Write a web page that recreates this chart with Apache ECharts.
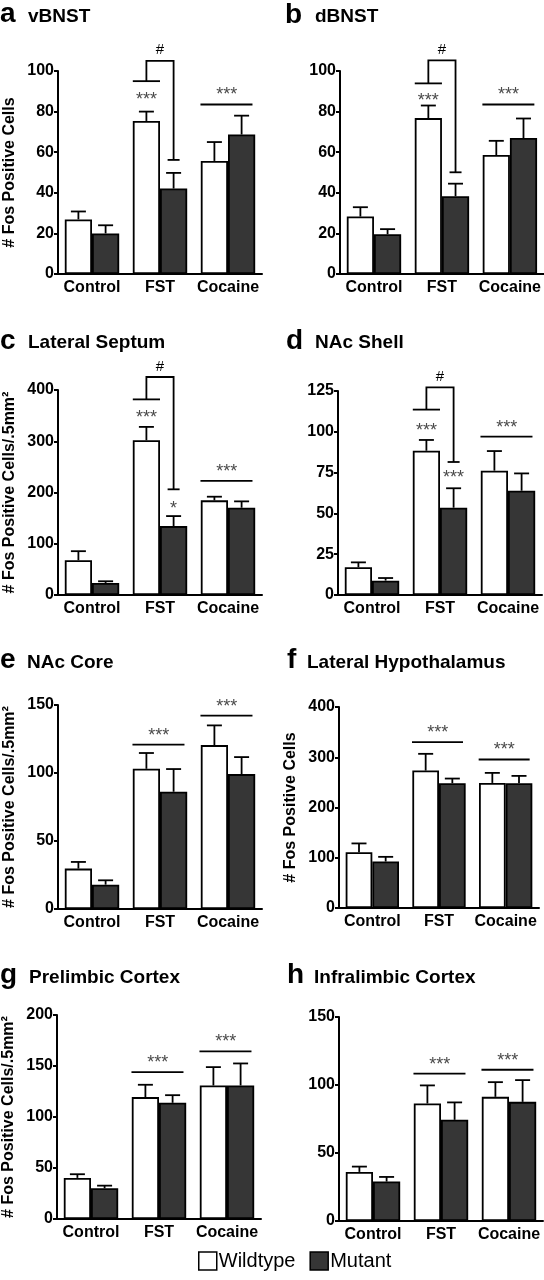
<!DOCTYPE html>
<html><head><meta charset="utf-8">
<script src="https://cdn.jsdelivr.net/npm/echarts@6/dist/echarts.min.js"></script>
<style>html,body{margin:0;padding:0;background:#fff;}#c{width:544px;height:1280px;}</style>
</head><body><div id="c"></div>
<script>
// ---------- data ----------
const categories = ['Control', 'FST', 'Cocaine'];
const seriesNames = ['Wildtype', 'Mutant'];
const panelLetters = ['a', 'b', 'c', 'd', 'e', 'f', 'g', 'h'];
const panelTitles = ['vBNST', 'dBNST', 'Lateral Septum', 'NAc Shell', 'NAc Core', 'Lateral Hypothalamus', 'Prelimbic Cortex', 'Infralimbic Cortex'];
const yNames = ['# Fos Positive Cells', '', '# Fos Positive Cells/.5mm\u00b2', '', '# Fos Positive Cells/.5mm\u00b2', '# Fos Positive Cells', '# Fos Positive Cells/.5mm\u00b2', ''];
const axisMax = [100, 100, 400, 125, 150, 400, 200, 150];
const axisStep = [20, 20, 100, 25, 50, 100, 50, 50];

const vbnstWT = [26.9, 75.4, 55.7], vbnstWTsem = [3.9, 4.6, 9.3];
const vbnstMut = [20.0, 42.1, 68.7], vbnstMutSem = [4.0, 7.7, 9.3];
const dbnstWT = [28.3, 76.8, 58.6], dbnstWTsem = [4.6, 6.2, 7.0];
const dbnstMut = [19.6, 38.3, 67.0], dbnstMutSem = [2.5, 6.2, 9.6];
const lsWT = [67.9, 302, 184.7], lsWTsem = [17.6, 26, 7.1];
const lsMut = [23.5, 134.4, 170.3], lsMutSem = [3.3, 19.6, 12.4];
const shellWT = [17.0, 88.4, 76.2], shellWTsem = [3.0, 6.6, 12.0];
const shellMut = [8.8, 53.5, 63.9], shellMutSem = [1.6, 11.9, 10.6];
const coreWT = [29.7, 103.1, 120.5], coreWTsem = [4.9, 11.6, 14.5];
const coreMut = [17.9, 86.2, 99.2], coreMutSem = [3.2, 16.7, 12.5];
const lhWT = [111.1, 273.5, 248.9], lhWTsem = [17.4, 33.3, 20.0];
const lhMut = [92.5, 248.3, 248.3], lhMutSem = [9.3, 9.3, 14.6];
const plWT = [40.3, 119.5, 130.9], plWTsem = [3.6, 12.1, 18.0];
const plMut = [30.1, 113.9, 130.9], plMutSem = [2.6, 7.5, 21.6];
const ilWT = [36.1, 86.4, 91.3], ilWTsem = [3.9, 13.3, 10.8];
const ilMut = [29.0, 74.4, 87.6], ilMutSem = [3.4, 12.8, 16.0];

// significance marks (value levels)
const vbnstSig = [
  {kind: 'bracket', cat: 1, low: 95, high: 105, end: 56.2, label: '#'},
  {kind: 'bar', cat: 1, side: -1, level: 87.2, label: '***'},
  {kind: 'group', cat: 2, level: 83.5, label: '***'}];
const dbnstSig = [
  {kind: 'bracket', cat: 1, low: 93.9, high: 105.2, end: 50.1, label: '#'},
  {kind: 'bar', cat: 1, side: -1, level: 86.9, label: '***'},
  {kind: 'group', cat: 2, level: 83.5, label: '***'}];
const lsSig = [
  {kind: 'bracket', cat: 1, low: 381.7, high: 425.4, end: 206.2, label: '#'},
  {kind: 'bar', cat: 1, side: -1, level: 351.7, label: '***'},
  {kind: 'bar', cat: 1, side: 1, level: 174.2, label: '*'},
  {kind: 'group', cat: 2, level: 222.5, label: '***'}];
const shellSig = [
  {kind: 'bracket', cat: 1, low: 113.6, high: 127.2, end: 81.5, label: '#'},
  {kind: 'bar', cat: 1, side: -1, level: 102.5, label: '***'},
  {kind: 'bar', cat: 1, side: 1, level: 73.7, label: '***'},
  {kind: 'group', cat: 2, level: 97, label: '***'}];
const coreSig = [{kind: 'group', cat: 1, level: 120.8, label: '***'}, {kind: 'group', cat: 2, level: 142.2, label: '***'}];
const lhSig = [{kind: 'group', cat: 1, level: 330, label: '***'}, {kind: 'group', cat: 2, level: 295.5, label: '***'}];
const plSig = [{kind: 'group', cat: 1, level: 144, label: '***'}, {kind: 'group', cat: 2, level: 164.3, label: '***'}];
const ilSig = [{kind: 'group', cat: 1, level: 108.3, label: '***'}, {kind: 'group', cat: 2, level: 111.2, label: '***'}];

const panelData = [
  [vbnstWT, vbnstWTsem, vbnstMut, vbnstMutSem, vbnstSig],
  [dbnstWT, dbnstWTsem, dbnstMut, dbnstMutSem, dbnstSig],
  [lsWT, lsWTsem, lsMut, lsMutSem, lsSig],
  [shellWT, shellWTsem, shellMut, shellMutSem, shellSig],
  [coreWT, coreWTsem, coreMut, coreMutSem, coreSig],
  [lhWT, lhWTsem, lhMut, lhMutSem, lhSig],
  [plWT, plWTsem, plMut, plMutSem, plSig],
  [ilWT, ilWTsem, ilMut, ilMutSem, ilSig]];

// ---------- layout ----------
const FONT = 'Liberation Sans, Arial, Helvetica, sans-serif';
const layout = [
  {left: 58, top: 71, width: 204, height: 203, lx: 0, ly: 0, tx: 28, ty: 7},
  {left: 340, top: 71, width: 204, height: 203, lx: 285, ly: 1, tx: 315, ty: 7},
  {left: 58, top: 390, width: 204, height: 205, lx: 0, ly: 327, tx: 28, ty: 333},
  {left: 338, top: 391, width: 204, height: 204, lx: 286, ly: 327, tx: 315, ty: 333},
  {left: 58, top: 705, width: 204, height: 204, lx: 0, ly: 646.5, tx: 27, ty: 653},
  {left: 339, top: 707, width: 200, height: 201, lx: 287, ly: 646, tx: 307, ty: 653},
  {left: 57, top: 1015, width: 204, height: 204, lx: 0, ly: 961, tx: 29, ty: 968},
  {left: 339, top: 1017, width: 204, height: 204, lx: 287, ly: 961, tx: 314, ty: 968}];

const LW = 1.8;
function seg(x1, y1, x2, y2) {
  return {type: 'line', shape: {x1, y1, x2, y2}, style: {stroke: '#000', lineWidth: LW}};
}
function txt(x, y, t, size, color) {
  return {type: 'text', x, y, style: {text: t, fill: color, fontSize: size, fontFamily: FONT, align: 'center', verticalAlign: 'middle'}};
}
function errRender(params, api) {
  const cat = api.value(0), v = api.value(1), e = api.value(2), side = api.value(3);
  const band = api.size([1, 0])[0];
  const p0 = api.coord([cat, v]);
  const p1 = api.coord([cat, v + e]);
  const x = p0[0] + side * 0.2 * band;
  return {type: 'group', children: [seg(x, p0[1], x, p1[1]), seg(x - 7.5, p1[1], x + 7.5, p1[1])]};
}
function makeSigRender(sig) {
  return function (params, api) {
    const s = sig[params.dataIndex];
    const band = api.size([1, 0])[0];
    const c = api.coord([s.cat, 0])[0];
    const els = [];
    if (s.kind === 'group') {
      const y = api.coord([s.cat, s.level])[1];
      els.push(seg(c - 0.405 * band, y, c + 0.36 * band, y));
      els.push(txt(c - 0.02 * band, y - 9, s.label, 18, '#4a4a4a'));
    } else if (s.kind === 'bracket') {
      const yl = api.coord([s.cat, s.low])[1];
      const yh = api.coord([s.cat, s.high])[1];
      const ye = api.coord([s.cat, s.end])[1];
      const xw = c - 0.2 * band, xm = c + 0.2 * band;
      els.push(seg(c - 0.4 * band, yl, c, yl));
      els.push({type: 'polyline', shape: {points: [[xw, yl], [xw, yh], [xm, yh], [xm, ye]]}, style: {stroke: '#000', lineWidth: LW, fill: null}});
      els.push(seg(xm - 6, ye, xm + 6, ye));
      els.push(txt((xw + xm) / 2, yh - 10.5, s.label, 15, '#000'));
    } else {
      const y = api.coord([s.cat, s.level])[1];
      els.push(txt(c + s.side * 0.2 * band, y + 3, s.label, 18, '#4a4a4a'));
    }
    return {type: 'group', children: els};
  };
}

const titles = [], grids = [], xAxes = [], yAxes = [], series = [];
layout.forEach((l, i) => {
  const [wt, wtSem, mut, mutSem, sig] = panelData[i];
  titles.push({text: panelLetters[i], left: l.lx, top: l.ly, padding: 0, textStyle: {fontSize: 28, fontWeight: 'bold', color: '#000', fontFamily: FONT}});
  titles.push({text: panelTitles[i], left: l.tx, top: l.ty, padding: 0, textStyle: {fontSize: 19, fontWeight: 'bold', color: '#000', fontFamily: FONT}});
  grids.push({left: l.left, top: l.top, width: l.width, height: l.height});
  xAxes.push({
    type: 'category', gridIndex: i, data: categories,
    axisLine: {lineStyle: {color: '#000', width: 2}},
    axisTick: {alignWithLabel: true, length: 4, lineStyle: {color: '#000', width: 2}},
    axisLabel: {color: '#000', fontWeight: 'bold', fontSize: 16, margin: 6, interval: 0, fontFamily: FONT},
    splitLine: {show: false}
  });
  yAxes.push({
    type: 'value', gridIndex: i, min: 0, max: axisMax[i], interval: axisStep[i],
    name: yNames[i], nameLocation: 'middle', nameGap: 40,
    nameTextStyle: {color: '#000', fontWeight: 'bold', fontSize: 16, fontFamily: FONT},
    axisLine: {show: true, lineStyle: {color: '#000', width: 2}},
    axisTick: {show: true, length: 4, lineStyle: {color: '#000', width: 2}},
    axisLabel: {color: '#000', fontWeight: 'bold', fontSize: 16, margin: 4, fontFamily: FONT},
    splitLine: {show: false}
  });
  series.push({type: 'bar', name: seriesNames[0], xAxisIndex: i, yAxisIndex: i, data: wt, barGap: '0%', barCategoryGap: '20%',
    itemStyle: {color: '#ffffff', borderColor: '#000', borderWidth: LW}, silent: true});
  series.push({type: 'bar', name: seriesNames[1], xAxisIndex: i, yAxisIndex: i, data: mut, barGap: '0%', barCategoryGap: '20%',
    itemStyle: {color: '#363636', borderColor: '#000', borderWidth: LW}, silent: true});
  series.push({type: 'custom', xAxisIndex: i, yAxisIndex: i, z: 3, silent: true,
    data: wt.map((v, k) => [k, v, wtSem[k], -1]).concat(mut.map((v, k) => [k, v, mutSem[k], 1])),
    renderItem: errRender});
  series.push({type: 'custom', xAxisIndex: i, yAxisIndex: i, z: 4, silent: true,
    data: sig.map(s => [s.cat, s.kind === 'bracket' ? s.low : s.level]),
    renderItem: makeSigRender(sig)});
});

const chart = echarts.init(document.getElementById('c'), null, {renderer: 'canvas'});
chart.setOption({
  animation: false,
  backgroundColor: '#fff',
  title: titles,
  grid: grids,
  xAxis: xAxes,
  yAxis: yAxes,
  legend: {
    data: seriesNames, left: 198, top: 1251, padding: 0, itemWidth: 18, itemHeight: 18, itemGap: 14,
    selectedMode: false, icon: 'rect',
    itemStyle: {borderColor: '#000', borderWidth: 1.5},
    textStyle: {fontSize: 20, color: '#000', fontFamily: FONT, padding: [0, 0, 0, -3]}
  },
  series: series
});
</script></body></html>
